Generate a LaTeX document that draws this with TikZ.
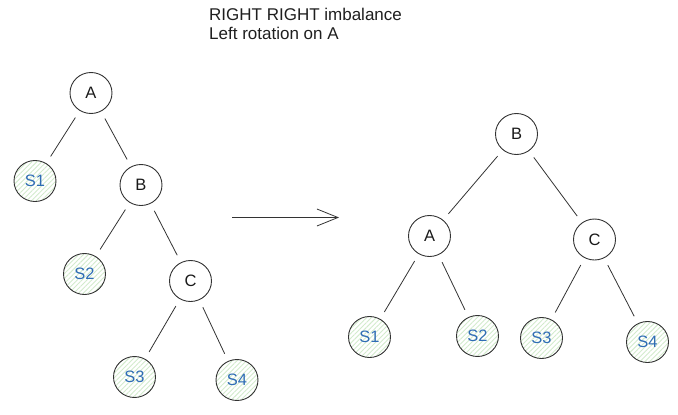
\documentclass[tikz,border=0pt]{standalone}
\usepackage{fontspec}
\setmainfont{Liberation Sans}
\usetikzlibrary{shapes.geometric,arrows.meta,patterns.meta}
\definecolor{ink}{HTML}{333333}
\definecolor{hatch}{HTML}{D2EBCC}
\definecolor{subblue}{HTML}{2F6DB5}
\tikzset{
  tnode/.style={ellipse,draw=ink,line width=0.9pt,minimum width=42pt,minimum height=41pt,inner sep=0pt,
    font=\fontsize{16.5}{18}\selectfont,text=black!90},
  subtree/.style={tnode,pattern={Lines[angle=45,distance=3.4pt,line width=0.9pt]},pattern color=hatch,text=subblue},
  edge/.style={draw=ink,line width=0.8pt,shorten <=8pt,shorten >=8pt},
  title/.style={anchor=base west,inner sep=0pt,font=\fontsize{17}{19}\selectfont,text=black!88}
}
\begin{document}
\begin{tikzpicture}[x=1pt,y=-1pt]
\useasboundingbox (0,0) rectangle (678,415);
% title
\node[title] (t1) at (209,20) {RIGHT RIGHT imbalance};
\node[title] (t2) at (209,39) {Left rotation on A};
% left tree
\node[tnode] (A1) at (91,93) {A};
\node[subtree] (S1a) at (35,181) {S1};
\node[tnode] (B1) at (141,185) {B};
\node[subtree] (S2a) at (84.5,274) {S2};
\node[tnode] (C1) at (190.5,281) {C};
\node[subtree] (S3a) at (134.5,377) {S3};
\node[subtree] (S4a) at (237,380) {S4};
\draw[edge] (A1) -- (S1a);
\draw[edge] (A1) -- (B1);
\draw[edge] (B1) -- (S2a);
\draw[edge] (B1) -- (C1);
\draw[edge] (C1) -- (S3a);
\draw[edge] (C1) -- (S4a);
% arrow
\coordinate (arrS) at (232,217.5);
\coordinate (arrE) at (339,217.5);
\draw[draw=ink,line width=0.8pt,-{Straight Barb[length=21pt,width=17pt]}] (arrS) -- (arrE);
% right tree
\node[tnode] (B2) at (516.5,134) {B};
\node[tnode] (A2) at (429.5,236) {A};
\node[tnode] (C2) at (594.5,239.5) {C};
\node[subtree] (S1b) at (369.5,337) {S1};
\node[subtree] (S2b) at (477.5,336) {S2};
\node[subtree] (S3b) at (541.5,338) {S3};
\node[subtree] (S4b) at (647.5,342) {S4};
\draw[edge] (B2) -- (A2);
\draw[edge] (B2) -- (C2);
\draw[edge] (A2) -- (S1b);
\draw[edge] (A2) -- (S2b);
\draw[edge] (C2) -- (S3b);
\draw[edge] (C2) -- (S4b);
\end{tikzpicture}
\end{document}
